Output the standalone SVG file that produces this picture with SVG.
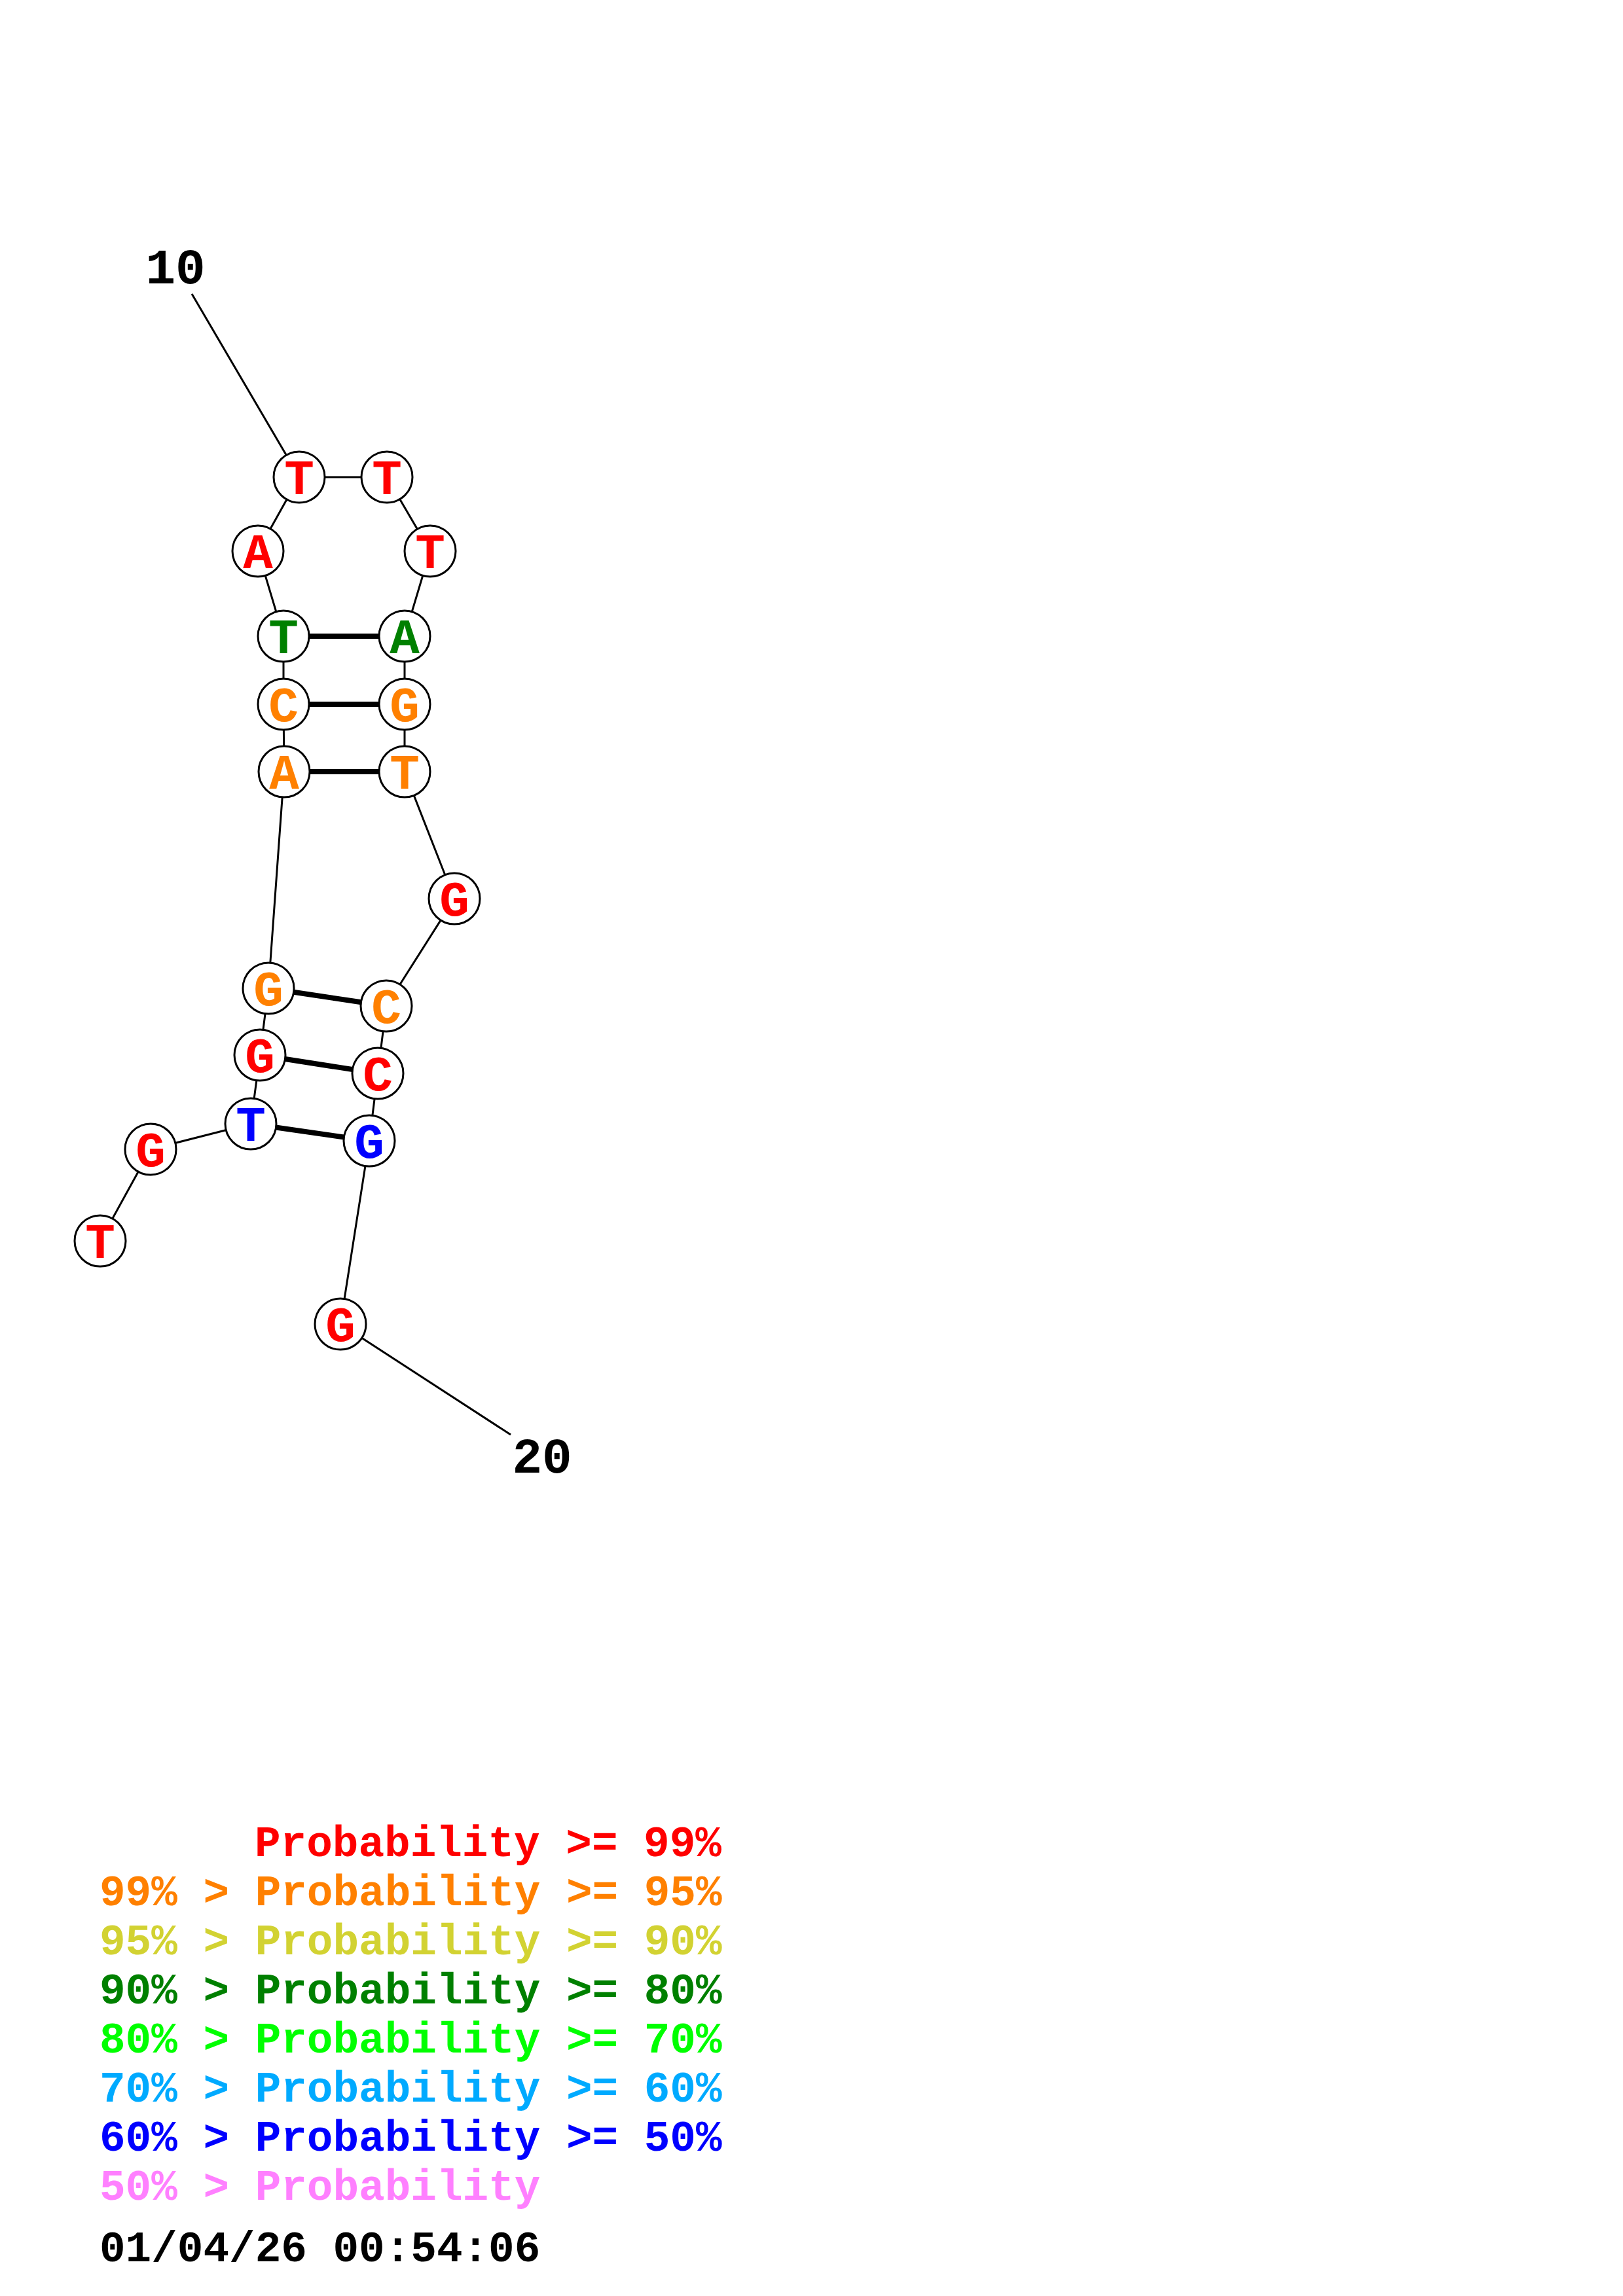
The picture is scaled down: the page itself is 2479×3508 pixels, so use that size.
<svg xmlns="http://www.w3.org/2000/svg" width="2479" height="3508" viewBox="0 0 2479 3508">
<style>
.bb{stroke:#000;stroke-width:3;fill:none}
.bp{stroke:#000;stroke-width:8;fill:none}
.nc{fill:#fff;stroke:#000;stroke-width:3}
.nt{font-family:"Liberation Mono","Courier New",monospace;font-weight:bold;font-size:76px;text-anchor:middle}
.lab{font-family:"Liberation Mono","Courier New",monospace;font-weight:bold;font-size:76px;text-anchor:middle;fill:#000}
.lg{font-family:"Liberation Mono","Courier New",monospace;font-weight:bold;font-size:66px}
.r{fill:#FF0000}.o{fill:#FF8000}.y{fill:#D2D232}.g{fill:#008000}.lgn{fill:#00FF00}.lb{fill:#00AAFF}.b{fill:#0000FF}.p{fill:#FF80FF}.k{fill:#000}
</style>
<g id="connectors">
<line class="bb" x1="293" y1="449" x2="457" y2="729"/>
<line class="bb" x1="520" y1="2023" x2="780" y2="2192"/>
<polyline class="bb" points="153,1896 230,1756 383,1717 397,1612 410,1510 434,1179 433,1076 433,972 394,842 457,729 591,729 657,842 618,972 618,1076 618,1179 694,1373 590,1537 577,1640 564,1743 520,2023"/>
<line class="bp" x1="433" y1="972" x2="618" y2="972"/>
<line class="bp" x1="433" y1="1076" x2="618" y2="1076"/>
<line class="bp" x1="434" y1="1179" x2="618" y2="1179"/>
<line class="bp" x1="410" y1="1510" x2="590" y2="1537"/>
<line class="bp" x1="397" y1="1612" x2="577" y2="1640"/>
<line class="bp" x1="383" y1="1717" x2="564" y2="1743"/>
</g>
<g id="n1"><circle class="nc" cx="153" cy="1896" r="39"/><text class="nt r" x="153" y="1922">T</text></g>
<g id="n2"><circle class="nc" cx="230" cy="1756" r="39"/><text class="nt r" x="230" y="1782">G</text></g>
<g id="n3"><circle class="nc" cx="383" cy="1717" r="39"/><text class="nt b" x="383" y="1743">T</text></g>
<g id="n4"><circle class="nc" cx="397" cy="1612" r="39"/><text class="nt r" x="397" y="1638">G</text></g>
<g id="n5"><circle class="nc" cx="410" cy="1510" r="39"/><text class="nt o" x="410" y="1536">G</text></g>
<g id="n6"><circle class="nc" cx="434" cy="1179" r="39"/><text class="nt o" x="434" y="1205">A</text></g>
<g id="n7"><circle class="nc" cx="433" cy="1076" r="39"/><text class="nt o" x="433" y="1102">C</text></g>
<g id="n8"><circle class="nc" cx="433" cy="972" r="39"/><text class="nt g" x="433" y="998">T</text></g>
<g id="n9"><circle class="nc" cx="394" cy="842" r="39"/><text class="nt r" x="394" y="868">A</text></g>
<g id="n10"><circle class="nc" cx="457" cy="729" r="39"/><text class="nt r" x="457" y="755">T</text></g>
<g id="n11"><circle class="nc" cx="591" cy="729" r="39"/><text class="nt r" x="591" y="755">T</text></g>
<g id="n12"><circle class="nc" cx="657" cy="842" r="39"/><text class="nt r" x="657" y="868">T</text></g>
<g id="n13"><circle class="nc" cx="618" cy="972" r="39"/><text class="nt g" x="618" y="998">A</text></g>
<g id="n14"><circle class="nc" cx="618" cy="1076" r="39"/><text class="nt o" x="618" y="1102">G</text></g>
<g id="n15"><circle class="nc" cx="618" cy="1179" r="39"/><text class="nt o" x="618" y="1205">T</text></g>
<g id="n16"><circle class="nc" cx="694" cy="1373" r="39"/><text class="nt r" x="694" y="1399">G</text></g>
<g id="n17"><circle class="nc" cx="590" cy="1537" r="39"/><text class="nt o" x="590" y="1563">C</text></g>
<g id="n18"><circle class="nc" cx="577" cy="1640" r="39"/><text class="nt r" x="577" y="1666">C</text></g>
<g id="n19"><circle class="nc" cx="564" cy="1743" r="39"/><text class="nt b" x="564" y="1769">G</text></g>
<g id="n20"><circle class="nc" cx="520" cy="2023" r="39"/><text class="nt r" x="520" y="2049">G</text></g>
<g id="labels">
<text class="lab" x="268" y="433">10</text>
<text class="lab" x="828" y="2250">20</text>
</g>
<g id="legend">
<text class="lg r" x="389" y="2836">Probability &gt;= 99%</text>
<text class="lg o" x="152" y="2911">99% &gt; Probability &gt;= 95%</text>
<text class="lg y" x="152" y="2986">95% &gt; Probability &gt;= 90%</text>
<text class="lg g" x="152" y="3061">90% &gt; Probability &gt;= 80%</text>
<text class="lg lgn" x="152" y="3136">80% &gt; Probability &gt;= 70%</text>
<text class="lg lb" x="152" y="3211">70% &gt; Probability &gt;= 60%</text>
<text class="lg b" x="152" y="3286">60% &gt; Probability &gt;= 50%</text>
<text class="lg p" x="152" y="3361">50% &gt; Probability</text>
<text class="lg k" x="152" y="3455">01/04/26 00:54:06</text>
</g>
</svg>
